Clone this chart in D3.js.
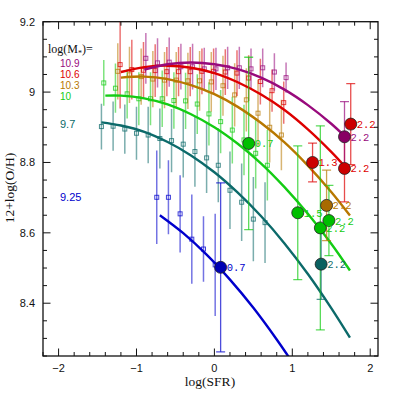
<!DOCTYPE html>
<html>
<head>
<meta charset="utf-8">
<script src="https://cdn.jsdelivr.net/npm/d3@7"></script>
<style>
  body { margin: 0; background: #fff; }
</style>
</head>
<body>
<svg id="chart" width="399" height="399"></svg>
<script>
/* global d3 */

// stacked local bins (log SFR, 12+log(O/H), error), one set per mass
const sfr109 = [-0.88, -0.73, -0.58, -0.43, -0.28, -0.13, 0.02, 0.17, 0.32, 0.47, 0.62, 0.77, 0.92];
const oh109 = [9.096, 9.083, 9.085, 9.072, 9.072, 9.066, 9.066, 9.069, 9.069, 9.066, 9.069, 9.057, 9.041];
const err109 = [0.072, 0.07, 0.07, 0.065, 0.065, 0.06, 0.06, 0.06, 0.06, 0.058, 0.055, 0.053, 0.043];

const sfr106 = [-1.21, -1.06, -0.91, -0.76, -0.61, -0.46, -0.31, -0.16, -0.01, 0.14, 0.29, 0.44, 0.59, 0.74, 0.89];
const oh106 = [9.078, 9.064, 9.062, 9.061, 9.058, 9.058, 9.058, 9.059, 9.059, 9.057, 9.054, 9.04, 9.03, 9.004, 8.97];
const err106 = [0.125, 0.085, 0.08, 0.075, 0.07, 0.07, 0.07, 0.065, 0.065, 0.065, 0.065, 0.065, 0.065, 0.06, 0.06];

const sfr103 = [-1.24, -1.09, -0.94, -0.79, -0.64, -0.49, -0.34, -0.19, -0.04, 0.11, 0.26, 0.41, 0.56, 0.71, 0.86];
const oh103 = [9.059, 9.049, 9.044, 9.037, 9.034, 9.034, 9.032, 9.032, 9.029, 9.018, 8.992, 8.978, 8.94, 8.9, 8.878];
const err103 = [0.08, 0.08, 0.08, 0.08, 0.08, 0.08, 0.08, 0.085, 0.085, 0.085, 0.09, 0.09, 0.095, 0.1, 0.1];

const sfr100 = [-1.42, -1.27, -1.12, -0.97, -0.82, -0.67, -0.52, -0.37, -0.22, -0.07, 0.08, 0.23, 0.38, 0.53, 0.68];
const oh100 = [9.026, 9.011, 8.995, 8.981, 8.981, 8.981, 8.976, 8.975, 8.966, 8.938, 8.916, 8.892, 8.864, 8.826, 8.792];
const err100 = [0.065, 0.07, 0.07, 0.075, 0.075, 0.08, 0.08, 0.08, 0.085, 0.09, 0.09, 0.095, 0.1, 0.1, 0.1];

const sfr97 = [-1.45, -1.3, -1.15, -1.0, -0.85, -0.7, -0.55, -0.4, -0.25, -0.1, 0.05, 0.2, 0.35, 0.5, 0.65];
const oh97 = [8.902, 8.903, 8.895, 8.883, 8.878, 8.868, 8.862, 8.852, 8.831, 8.813, 8.792, 8.721, 8.687, 8.639, 8.629];
const err97 = [0.065, 0.07, 0.07, 0.075, 0.08, 0.085, 0.09, 0.095, 0.1, 0.1, 0.105, 0.11, 0.11, 0.12, 0.115];

const sfr925 = [-0.74, -0.59, -0.44, -0.29, -0.14, 0.01];
const oh925 = [8.701, 8.701, 8.654, 8.582, 8.554, 8.509];
const err925 = [0.133, 0.105, 0.11, 0.127, 0.093, 0.145];

// fitted relations, sampled along log SFR
const fitSfr109 = [-0.9, -0.6, -0.3, 0, 0.3, 0.6, 0.9, 1.2, 1.5, 1.68];
const fitOh109 = [9.064, 9.079, 9.084, 9.079, 9.065, 9.041, 9.007, 8.963, 8.91, 8.873];
const fitSfr106 = [-1.2, -0.9, -0.6, -0.3, 0, 0.3, 0.6, 0.9, 1.2, 1.5, 1.68];
const fitOh106 = [9.057, 9.071, 9.075, 9.069, 9.054, 9.028, 8.993, 8.949, 8.894, 8.83, 8.787];
const fitSfr103 = [-1.2, -0.9, -0.6, -0.3, 0, 0.3, 0.6, 0.9, 1.2, 1.5, 1.74];
const fitOh103 = [9.041, 9.044, 9.037, 9.02, 8.994, 8.958, 8.912, 8.857, 8.791, 8.716, 8.649];
const fitSfr100 = [-1.4, -1.2, -0.9, -0.6, -0.3, 0, 0.3, 0.6, 0.9, 1.2, 1.5, 1.74];
const fitOh100 = [8.99, 8.99, 8.982, 8.965, 8.937, 8.9, 8.853, 8.797, 8.73, 8.654, 8.569, 8.493];
const fitSfr97 = [-1.45, -1.2, -0.9, -0.6, -0.3, 0, 0.3, 0.6, 0.9, 1.2, 1.5, 1.74];
const fitOh97 = [8.914, 8.905, 8.887, 8.858, 8.82, 8.772, 8.714, 8.647, 8.57, 8.483, 8.386, 8.302];
const fitSfr925 = [-0.7, -0.4, -0.1, 0.2, 0.5, 0.8, 0.97];
const fitOh925 = [8.65, 8.599, 8.538, 8.467, 8.387, 8.297, 8.242];

// high-redshift points
const hiSfr = [0.08, 0.44, 1.07, 1.36, 1.47, 1.37, 1.44, 1.26, 1.67, 1.75, 1.67];
const hiOh = [8.502, 8.854, 8.657, 8.614, 8.635, 8.511, 8.678, 8.8, 8.783, 8.909, 8.873];
const hiErr = [0.24, 0.245, 0.19, 0.29, 0.1, 0.1, 0.1, 0.055, 0.095, 0.115, 0.1];
const hiZ = ['0.7', '0.7', '1.5', '2.2', '2.2', '2.2', '2.2', '1.3', '2.2', '2.2', '2.2'];
const hiMass = ['9.25', '10', '10', '10', '10', '9.7', '10.3', '10.6', '10.6', '10.6', '10.9'];

const xTicks = [-2, -1, 0, 1, 2];
const yTicks = [8.4, 8.6, 8.8, 9, 9.2];

const COLORS = {
  '10.9': { line: '#980a7c', fill: '#880064' },
  '10.6': { line: '#dd0000', fill: '#cc0000' },
  '10.3': { line: '#b87800', fill: '#a86a00' },
  '10': { line: '#14cc14', fill: '#00bf00' },
  '9.7': { line: '#0c6a6a', fill: '#0a6060' },
  '9.25': { line: '#0000cc', fill: '#0000b4' },
};

const groups = [
  { mass: '9.7', sfr: sfr97, oh: oh97, err: err97, fitSfr: fitSfr97, fitOh: fitOh97 },
  { mass: '10', sfr: sfr100, oh: oh100, err: err100, fitSfr: fitSfr100, fitOh: fitOh100 },
  { mass: '10.3', sfr: sfr103, oh: oh103, err: err103, fitSfr: fitSfr103, fitOh: fitOh103 },
  { mass: '10.6', sfr: sfr106, oh: oh106, err: err106, fitSfr: fitSfr106, fitOh: fitOh106 },
  { mass: '10.9', sfr: sfr109, oh: oh109, err: err109, fitSfr: fitSfr109, fitOh: fitOh109 },
  { mass: '9.25', sfr: sfr925, oh: oh925, err: err925, fitSfr: fitSfr925, fitOh: fitOh925 },
];

const legendMasses = ['10.9', '10.6', '10.3', '10', '9.7', '9.25'];
const legendY = [67, 78, 89, 99.5, 128, 201];

const main = () => {
  const svg = d3.select('#chart');
  const L = 43;
  const R = 378;
  const T = 21.7;
  const B = 356;

  const x = d3.scaleLinear().domain([-2.2, 2.1]).range([L, R]);
  const y = d3.scaleLinear().domain([8.25, 9.2]).range([B, T]);

  svg.append('defs').append('clipPath').attr('id', 'plot')
    .append('rect').attr('x', L).attr('y', T).attr('width', R - L).attr('height', B - T);

  const plot = svg.append('g').attr('clip-path', 'url(#plot)');

  // local bins: error bars + open squares
  groups.forEach((g) => {
    const col = COLORS[g.mass].line;
    const pts = g.sfr.map((s, i) => ({ s, o: g.oh[i], e: g.err[i] }));
    const gg = plot.append('g');
    gg.selectAll('line').data(pts).enter().append('line')
      .attr('x1', (d) => x(d.s)).attr('x2', (d) => x(d.s))
      .attr('y1', (d) => y(d.o - d.e)).attr('y2', (d) => y(d.o + d.e))
      .attr('stroke', col).attr('stroke-opacity', 0.55).attr('stroke-width', 1.5);
    gg.selectAll('rect').data(pts).enter().append('rect')
      .attr('x', (d) => x(d.s) - 2).attr('y', (d) => y(d.o) - 2)
      .attr('width', 4).attr('height', 4)
      .attr('fill', 'none').attr('stroke', col).attr('stroke-opacity', 0.75).attr('stroke-width', 1);
  });

  // fitted curves
  const line = d3.line().x((d) => x(d[0])).y((d) => y(d[1])).curve(d3.curveCatmullRom);
  groups.forEach((g) => {
    plot.append('path')
      .datum(g.fitSfr.map((s, i) => [s, g.fitOh[i]]))
      .attr('d', line)
      .attr('fill', 'none')
      .attr('stroke', COLORS[g.mass].line)
      .attr('stroke-width', 2.4);
  });

  // high-z points
  const hi = hiSfr.map((s, i) => ({ s, o: hiOh[i], e: hiErr[i], z: hiZ[i], m: hiMass[i] }));
  const hg = plot.append('g');
  hi.forEach((d) => {
    const col = COLORS[d.m].line;
    const cx = x(d.s);
    const b = hg.append('g').attr('stroke', col).attr('stroke-opacity', 0.7).attr('stroke-width', 1.3);
    b.append('line').attr('x1', cx).attr('x2', cx).attr('y1', y(d.o - d.e)).attr('y2', y(d.o + d.e));
    [d.o - d.e, d.o + d.e].forEach((v) => {
      b.append('line').attr('x1', cx - 4.5).attr('x2', cx + 4.5).attr('y1', y(v)).attr('y2', y(v));
    });
  });
  hg.selectAll('circle').data(hi).enter().append('circle')
    .attr('cx', (d) => x(d.s)).attr('cy', (d) => y(d.o)).attr('r', 6)
    .attr('fill', (d) => COLORS[d.m].fill)
    .attr('stroke', '#222').attr('stroke-width', 0.8);
  hg.selectAll('text').data(hi).enter().append('text')
    .attr('x', (d) => x(d.s) + 6).attr('y', (d) => y(d.o) + 4)
    .attr('fill', (d) => COLORS[d.m].line)
    .style('font', '10.5px "Liberation Mono", monospace')
    .text((d) => d.z);

  // axes (ticks inside, on all four sides)
  const minorX = d3.range(-2.2, 2.11, 0.2).map((v) => +v.toFixed(2));
  const minorY = d3.range(8.25, 9.21, 0.05).map((v) => +v.toFixed(2));
  const axes = svg.append('g').attr('stroke', '#111').attr('stroke-width', 1);
  const addTicks = (vals, len) => {
    vals.forEach((v) => {
      axes.append('line').attr('x1', x(v)).attr('x2', x(v)).attr('y1', B).attr('y2', B - len);
      axes.append('line').attr('x1', x(v)).attr('x2', x(v)).attr('y1', T).attr('y2', T + len);
    });
  };
  const addYTicks = (vals, len) => {
    vals.forEach((v) => {
      axes.append('line').attr('x1', L).attr('x2', L + len).attr('y1', y(v)).attr('y2', y(v));
      axes.append('line').attr('x1', R).attr('x2', R - len).attr('y1', y(v)).attr('y2', y(v));
    });
  };
  addTicks(minorX.filter((v) => !xTicks.includes(v)), 4);
  addTicks(xTicks, 7.5);
  addYTicks(minorY.filter((v) => !yTicks.includes(v)), 4);
  addYTicks(yTicks, 7.5);
  axes.append('rect').attr('x', L).attr('y', T).attr('width', R - L).attr('height', B - T)
    .attr('fill', 'none').attr('stroke-width', 1.3);

  const tickFont = '11px "Liberation Sans", Arial, sans-serif';
  svg.append('g').selectAll('text').data(xTicks).enter().append('text')
    .attr('x', (d) => x(d)).attr('y', 372)
    .attr('text-anchor', 'middle').style('font', tickFont).attr('fill', '#111')
    .text((d) => (d < 0 ? `\u2212${-d}` : d));
  svg.append('g').selectAll('text').data(yTicks).enter().append('text')
    .attr('x', 35).attr('y', (d) => y(d) + 4)
    .attr('text-anchor', 'end').style('font', tickFont).attr('fill', '#111')
    .text((d) => d);

  // axis titles
  const serif = '"Liberation Serif", "Times New Roman", serif';
  svg.append('text').attr('x', 210).attr('y', 386).attr('text-anchor', 'middle')
    .style('font', `13.5px ${serif}`).attr('fill', '#111').text('log(SFR)');
  svg.append('text').attr('transform', 'translate(14,188) rotate(-90)').attr('text-anchor', 'middle')
    .style('font', `13.5px ${serif}`).attr('fill', '#111').text('12+log(O/H)');

  // mass legend
  const lt = svg.append('text').attr('x', 48).attr('y', 52.5)
    .style('font', `12px ${serif}`).attr('fill', '#111');
  lt.append('tspan').text('log(M');
  lt.append('tspan').attr('dy', 3).style('font-size', '8px').text('*');
  lt.append('tspan').attr('dy', -3).text(')=');

  legendMasses.forEach((m, i) => {
    const big = m === '9.7' || m === '9.25';
    svg.append('text').attr('x', 60).attr('y', legendY[i])
      .style('font', `${big ? 11 : 10}px "Liberation Sans", Arial, sans-serif`)
      .attr('fill', COLORS[m].line)
      .text(m);
  });
};
main();
</script>
</body>
</html>
